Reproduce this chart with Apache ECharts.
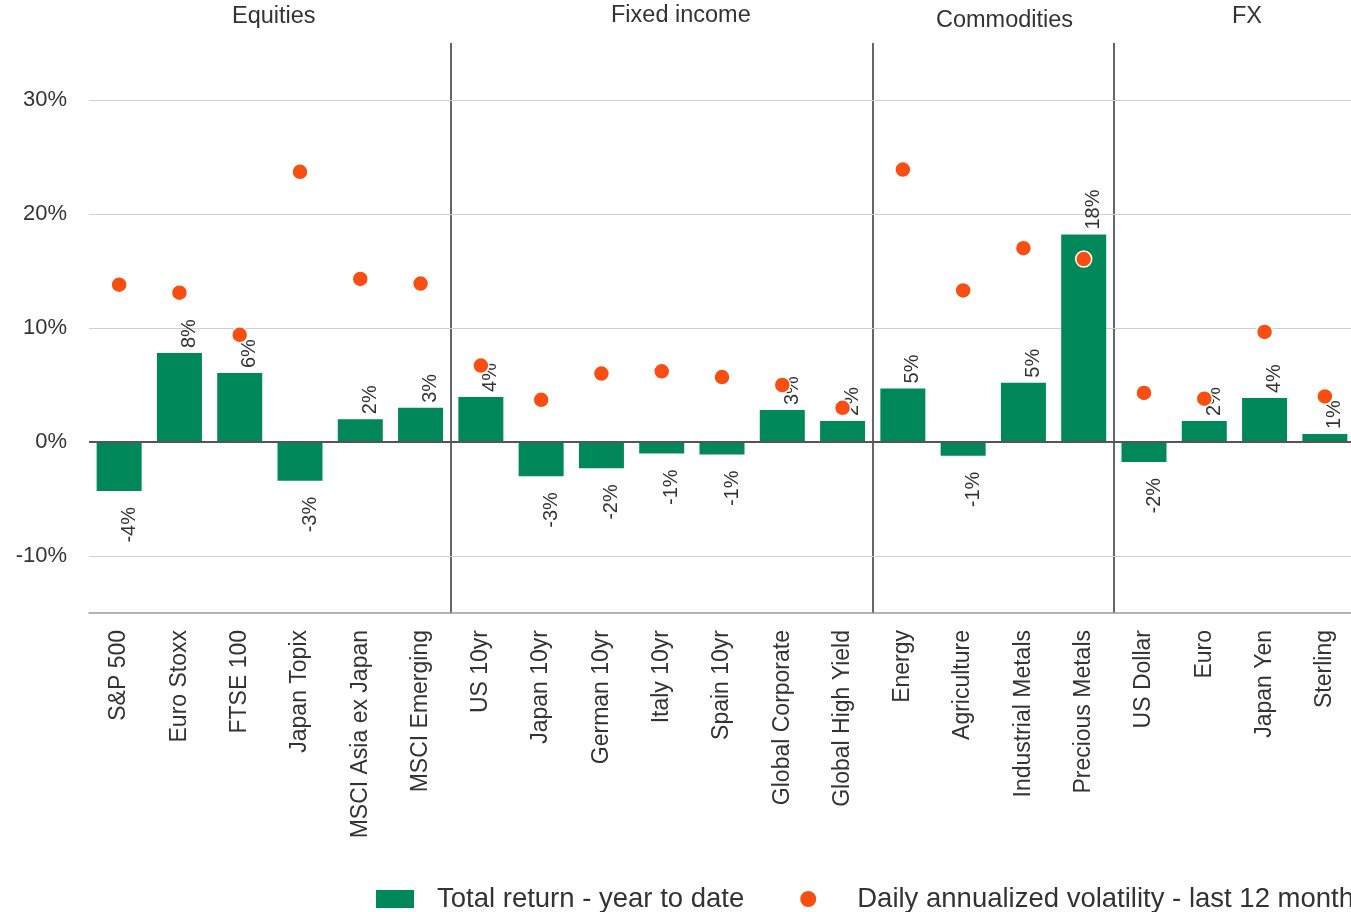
<!DOCTYPE html>
<html>
<head>
<meta charset="utf-8">
<script src="https://cdn.jsdelivr.net/npm/echarts@6/dist/echarts.min.js"></script>
<style>html,body{margin:0;padding:0;background:#fff;overflow:hidden}#c{width:1357px;height:912px}</style>
</head>
<body>
<div id="c"></div>
<script>
const categories = ['S&P 500','Euro Stoxx','FTSE 100','Japan Topix','MSCI Asia ex Japan','MSCI Emerging',
  'US 10yr','Japan 10yr','German 10yr','Italy 10yr','Spain 10yr','Global Corporate','Global High Yield',
  'Energy','Agriculture','Industrial Metals','Precious Metals',
  'US Dollar','Euro','Japan Yen','Sterling'];
const totalReturn = [-4.3, 7.8, 6.05, -3.4, 2.0, 3.0,
  3.95, -3.0, -2.3, -1.0, -1.1, 2.8, 1.85,
  4.7, -1.2, 5.2, 18.2,
  -1.75, 1.85, 3.85, 0.7];
const volatility = [13.8, 13.1, 9.4, 23.7, 14.3, 13.9,
  6.7, 3.7, 6.0, 6.2, 5.7, 5.0, 3.0,
  23.9, 13.3, 17.0, 16.05,
  4.3, 3.8, 9.65, 4.0];
const groupStarts = [6, 13, 17];
const groupNames = ['Equities', 'Fixed income', 'Commodities', 'FX'];
const gridValues = [30, 20, 10, -10];
const seriesNames = ['Total return - year to date', 'Daily annualized volatility - last 12 month'];

const FONT = "'Liberation Sans', Arial, sans-serif";
const GREEN = '#00875A';
const ORANGE = '#F94E12';

const barData = totalReturn.map(v => ({
  value: v,
  label: v < 0
    ? { position: 'bottom', align: 'right', distance: 16 }
    : { position: 'top', align: 'left', distance: 5 }
}));

const chart = echarts.init(document.getElementById('c'));
chart.setOption({
  animation: false,
  textStyle: { fontFamily: FONT },
  grid: { left: 89, right: 2, top: 43, bottom: 299, containLabel: false },
  legend: {
    left: 371, top: 880,
    itemWidth: 38, itemHeight: 18, itemGap: 54,
    textStyle: { fontSize: 27.5, color: '#333', fontFamily: FONT, padding: [0, 0, 0, 18] },
    data: [
      { name: seriesNames[0], icon: 'rect' },
      { name: seriesNames[1], icon: 'circle', textStyle: { padding: [0, 0, 0, 25] } }
    ]
  },
  xAxis: {
    type: 'category',
    data: categories,
    axisLine: { onZero: false, lineStyle: { color: '#9a9a9a', width: 1.5 } },
    axisTick: { show: false },
    axisLabel: { rotate: 90, fontSize: 23, color: '#333', margin: 17, fontFamily: FONT, interval: 0 },
    splitLine: {
      show: true,
      interval: (idx) => groupStarts.indexOf(idx) >= 0,
      lineStyle: { color: '#333', width: 1.5 }
    }
  },
  yAxis: {
    type: 'value',
    min: -15, max: 35, interval: 5,
    axisLine: { show: false },
    axisTick: { show: false },
    splitLine: { show: false },
    axisLabel: {
      fontSize: 22, color: '#333', margin: 22, fontFamily: FONT,
      formatter: v => (v % 10 === 0) ? v + '%' : ''
    }
  },
  series: [
    {
      name: seriesNames[0],
      type: 'bar',
      data: barData,
      barWidth: 45,
      itemStyle: { color: GREEN },
      z: 2,
      label: {
        show: true, rotate: 90, verticalAlign: 'top',
        fontSize: 20, color: '#333', fontFamily: FONT,
        formatter: p => Math.round(p.value) + '%'
      },
      markLine: {
        silent: true, symbol: 'none', z: 1,
        label: { show: false },
        lineStyle: { color: '#cfcfcf', width: 1.2, type: 'solid' },
        data: gridValues.map(v => ({ yAxis: v }))
      }
    },
    {
      name: seriesNames[1],
      type: 'scatter',
      data: volatility,
      symbolSize: 16,
      z: 6,
      itemStyle: { color: ORANGE, borderColor: '#fff', borderWidth: 1.5, opacity: 1 },
      markLine: {
        silent: true, symbol: 'none', z: 4,
        label: { show: false },
        lineStyle: { color: '#555', width: 2, type: 'solid' },
        data: [{ yAxis: 0 }]
      }
    }
  ],
  graphic: [
    { type: 'text', left: 232, top: 5, style: { text: groupNames[0], fontSize: 23.5, fill: '#333', fontFamily: FONT } },
    { type: 'text', left: 611, top: 4, style: { text: groupNames[1], fontSize: 23.5, fill: '#333', fontFamily: FONT } },
    { type: 'text', left: 936, top: 9, style: { text: groupNames[2], fontSize: 23.5, fill: '#333', fontFamily: FONT } },
    { type: 'text', left: 1232, top: 5, style: { text: groupNames[3], fontSize: 23.5, fill: '#333', fontFamily: FONT } }
  ]
});
</script>
</body>
</html>
